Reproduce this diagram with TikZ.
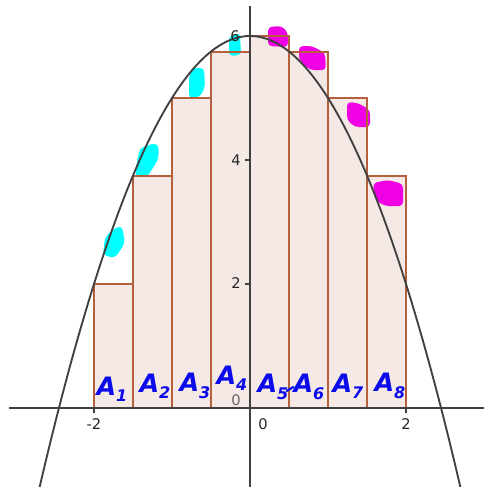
\documentclass[tikz,border=0pt]{standalone}
\usepackage{fontspec}
\setmainfont{DejaVu Sans}
\definecolor{recfill}{RGB}{244,233,229}
\definecolor{recedge}{RGB}{180,96,60}
\definecolor{axisgray}{RGB}{64,64,64}
\definecolor{cyanmark}{RGB}{0,255,255}
\definecolor{magmark}{RGB}{240,0,228}
\definecolor{handblue}{RGB}{10,10,235}
\tikzset{
  recbox/.style={fill=recfill,draw=recedge,line width=1.5},
  axisline/.style={draw=axisgray,line width=1.5},
  tickline/.style={draw=axisgray,line width=1.2},
  ticklabel/.style={font=\fontsize{11}{11}\selectfont,text=black!85,inner sep=0pt},
  hlcyan/.style={fill=cyanmark,rounded corners=3},
  hlmag/.style={fill=magmark,rounded corners=3},
  handlabel/.style={font=\fontsize{19}{19}\selectfont\bfseries\itshape,text=handblue,inner sep=0pt}
}
\newcommand{\hl}[2]{#1\raisebox{-0.25em}{\fontsize{12}{12}\selectfont #2}}
\begin{document}
\begin{tikzpicture}[x=0.75pt,y=-0.75pt]
\useasboundingbox (0,0) rectangle (484,487);
\clip (0,0) rectangle (484,487);
% rectangles (left endpoint sums of 6 - x^2 on [-2,2], width 0.5)
\foreach \i in {0,...,7}{
  \pgfmathsetmacro{\t}{-2+0.5*\i}
  \pgfmathsetmacro{\h}{6-\t*\t}
  \fill[recfill] ({250+78*\t},408) rectangle ({250+78*(\t+0.5)},{408-62*\h});
}
% highlighter marks
\fill[hlcyan] (103,255) -- (105,237) -- (115,228) -- (122,226) -- (125,243) -- (115,258) -- cycle;
\fill[hlcyan] (135,177) -- (137,162) -- (140,148) -- (155,143) -- (159,147) -- (158,160) -- (147,177) -- cycle;
\fill[hlcyan] (189,98) -- (189,77) -- (192,68) -- (204,68) -- (205,87) -- (200,97) -- cycle;
\fill[hlcyan] (229,56) -- (229,36) -- (240,33) -- (241,55) -- cycle;
\fill[hlmag] (268,46) -- (268,27) -- (282,26) -- (288,33) -- (288,47) -- cycle;
\fill[hlmag] (299,60) -- (299,46) -- (312,46) -- (325,53) -- (326,70) -- (310,70) -- cycle;
\fill[hlmag] (347,120) -- (347,102) -- (358,103) -- (370,110) -- (370,127) -- (355,127) -- cycle;
\fill[hlmag] (375,200) -- (373,183) -- (388,180) -- (403,184) -- (403,206) -- (385,206) -- cycle;
% rectangle edges
\foreach \i in {0,...,7}{
  \pgfmathsetmacro{\t}{-2+0.5*\i}
  \pgfmathsetmacro{\h}{6-\t*\t}
  \draw[recbox,fill=none] ({250+78*\t},408) rectangle ({250+78*(\t+0.5)},{408-62*\h});
}
% axes
\coordinate (xl) at (9,408);
\coordinate (xr) at (484,408);
\coordinate (yb) at (250,487);
\coordinate (yt) at (250,6);
\draw[axisline] (xl) -- (xr);
\draw[axisline] (yb) -- (yt);
% ticks
\foreach \t in {-2,2}{\draw[tickline] ({250+78*\t},408) -- ({250+78*\t},413);}
\foreach \v in {2,4,6}{\draw[tickline] (245,{408-62*\v}) -- (250,{408-62*\v});}
% parabola
\draw[draw=black!75,line width=1.4] plot[domain=-2.72:2.72,samples=120,smooth] ({250+78*\x},{408-62*(6-\x*\x)});
% tick labels
\node[ticklabel] (lxm2) at (94,424) {-2};
\node[ticklabel] (lx0) at (263,424) {0};
\node[ticklabel] (lx2) at (406,424) {2};
\node[ticklabel] (ly6) at (235,36) {6};
\node[ticklabel] (ly4) at (236,160) {4};
\node[ticklabel] (ly2) at (236,283) {2};
\node[ticklabel,text=black!60] (ly0) at (236,400) {0};
% handwritten labels
\node[handlabel] (a1) at (112,389) {\hl{A}{1}};
\node[handlabel] (a2) at (155,386) {\hl{A}{2}};
\node[handlabel] (a3) at (195,386) {\hl{A}{3}};
\node[handlabel] (a4) at (232,378) {\hl{A}{4}};
\node[handlabel] (a5) at (273,387) {\hl{A}{5}};
\node[handlabel] (a6) at (309,387) {\hl{A}{6}};
\node[handlabel] (a7) at (348,386) {\hl{A}{7}};
\node[handlabel] (a8) at (390,386) {\hl{A}{8}};
\draw[draw=handblue,line width=1.6,line cap=round] (a5.east) ++(-2,4) -- (a6.west);
\end{tikzpicture}
\end{document}
